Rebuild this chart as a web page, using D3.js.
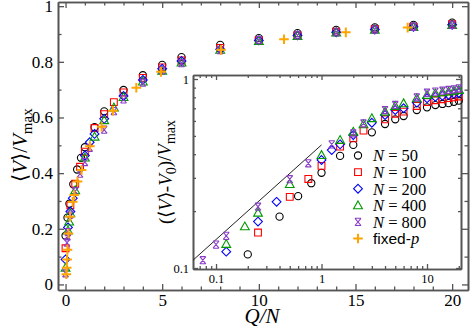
<!DOCTYPE html>
<meta charset="utf-8">
<style>
body { margin: 0; background: #fff; }
svg { display: block; }
.ax path { stroke: #555; stroke-width: 1.6; fill: none; }
.ax line { stroke: #555; stroke-width: 1.3; }
.ax text { font-family: "Liberation Serif", "Times New Roman", serif; fill: #000; }
</style>
<body>
<script src="https://d3js.org/d3.v7.min.js"></script>
<script>

// ---- main plot data: <V>/Vmax against Q/N
var n50X  = [0, 0.1, 0.2, 0.4, 0.6, 0.8, 1, 1.5, 2, 3, 4, 5, 6, 8, 10, 12, 14, 16, 18, 20];
var n50Y  = [0.175, 0.24, 0.29, 0.36, 0.413, 0.455, 0.493, 0.565, 0.622, 0.699, 0.752, 0.789, 0.817, 0.861, 0.885, 0.903, 0.915, 0.924, 0.933, 0.941];
var n100X = [0, 0.25, 0.5, 0.75, 1, 1.5, 2, 2.5, 3, 4, 5, 6, 8, 10, 12, 14, 16, 18, 20];
var n100Y = [0.13, 0.284, 0.362, 0.423, 0.477, 0.562, 0.612, 0.655, 0.69, 0.742, 0.78, 0.805, 0.85, 0.878, 0.895, 0.908, 0.918, 0.926, 0.935];
var n200X = [0, 0.125, 0.25, 0.375, 1, 1.25, 1.5, 2, 3, 4, 5, 6, 8, 10, 12, 14, 16, 18, 20];
var n200Y = [0.09, 0.205, 0.262, 0.31, 0.463, 0.511, 0.541, 0.595, 0.677, 0.735, 0.775, 0.803, 0.845, 0.877, 0.895, 0.906, 0.916, 0.926, 0.933];
var n400X = [0, 0.125, 0.1875, 0.25, 0.5, 1, 1.5, 2, 2.5, 3, 4, 5, 6, 8, 10, 12, 14, 16, 18, 20];
var n400Y = [0.06, 0.194, 0.226, 0.256, 0.338, 0.456, 0.531, 0.59, 0.636, 0.673, 0.729, 0.768, 0.797, 0.843, 0.875, 0.893, 0.905, 0.915, 0.925, 0.932];
var n800X = [0, 0.075, 0.1, 0.125, 0.25, 0.5, 0.75, 1, 1.25, 2, 2.5, 3, 4, 5, 6, 8, 10, 12, 14, 16, 18, 20];
var n800Y = [0.04, 0.15, 0.173, 0.188, 0.251, 0.335, 0.398, 0.44, 0.491, 0.556, 0.623, 0.665, 0.725, 0.769, 0.795, 0.842, 0.878, 0.895, 0.906, 0.916, 0.926, 0.933];
var fixX  = [0.04, 0.06, 0.08, 0.1, 0.15, 0.23, 0.37, 0.45, 0.62, 0.83, 1.26, 1.87, 2.45, 3.66, 4.94, 8.04, 11.3, 14.5, 17.7];
var fixY  = [0.037, 0.06, 0.09, 0.125, 0.183, 0.243, 0.297, 0.321, 0.37, 0.411, 0.497, 0.567, 0.624, 0.707, 0.764, 0.843, 0.881, 0.906, 0.923];

// ---- inset data: (<V>-V0)/Vmax against Q/N, log-log
var in50X  = [0.2, 0.4, 0.6, 0.8, 1, 1.5, 2, 3, 4, 5, 6, 8, 10, 12, 14, 16, 18, 20];
var in50Y  = [0.118, 0.187, 0.24, 0.281, 0.319, 0.392, 0.448, 0.522, 0.578, 0.612, 0.637, 0.685, 0.708, 0.728, 0.738, 0.745, 0.757, 0.768];
var in100X = [0.25, 0.5, 0.75, 1, 1.5, 2, 2.5, 4, 5, 6, 8, 10, 12, 14, 16, 18, 20];
var in100Y = [0.154, 0.238, 0.296, 0.347, 0.439, 0.485, 0.533, 0.612, 0.655, 0.672, 0.72, 0.755, 0.772, 0.782, 0.792, 0.8, 0.808];
var in200X = [0.125, 0.25, 0.375, 1, 1.25, 1.5, 2, 3, 4, 5, 6, 8, 10, 12, 14, 16, 18, 20];
var in200Y = [0.122, 0.176, 0.224, 0.373, 0.421, 0.451, 0.505, 0.587, 0.645, 0.685, 0.70, 0.75, 0.79, 0.805, 0.815, 0.825, 0.835, 0.843];
var in400X = [0.125, 0.1875, 0.25, 0.5, 1, 1.5, 2, 2.5, 3, 4, 5, 6, 8, 10, 12, 14, 16, 18, 20];
var in400Y = [0.134, 0.166, 0.196, 0.278, 0.396, 0.476, 0.526, 0.576, 0.62, 0.671, 0.72, 0.744, 0.79, 0.823, 0.84, 0.85, 0.857, 0.867, 0.875];
var in800X = [0.075, 0.1, 0.125, 0.25, 0.5, 0.75, 1.25, 2, 2.5, 4, 5, 8, 10, 12, 14, 16, 18, 20];
var in800Y = [0.11, 0.133, 0.148, 0.211, 0.295, 0.358, 0.451, 0.516, 0.583, 0.685, 0.729, 0.80, 0.846, 0.857, 0.867, 0.875, 0.882, 0.893];
var guideX = [0.0605, 1];
var guideY = [0.110, 0.448];

var xMajor = [0, 5, 10, 15, 20];
var yMajor = [0, 0.2, 0.4, 0.6, 0.8, 1];
var inXLabels = [0.1, 1, 10];
var inYLabels = [0.1, 1];
var legendLabels = ["50", "100", "200", "400", "800"];

var width = 471, height = 331;

var svg = d3.select("body").append("svg")
    .attr("width", width)
    .attr("height", height);

// symbols
var sym = {
  circle:  "M3.6,0A3.6,3.6 0 1,1 -3.6,0A3.6,3.6 0 1,1 3.6,0Z",
  square:  "M-3.4,-3.4H3.4V3.4H-3.4Z",
  diamond: "M0,-4.4L4.4,0L0,4.4L-4.4,0Z",
  tri:     "M0,-4.4L4.4,3.4H-4.4Z",
  hour:    "M-3,-3.6L3,3.6M3,-3.6L-3,3.6M-3,-3.6H3M-3,3.6H3",
  plus:    "M-4.8,0H4.8M0,-4.8V4.8"
};
var series = [
  {x: n50X,  y: n50Y,  ix: in50X,  iy: in50Y,  s: "circle",  c: "#000",    w: 1.1},
  {x: n100X, y: n100Y, ix: in100X, iy: in100Y, s: "square",  c: "#ff0000", w: 1.1},
  {x: n200X, y: n200Y, ix: in200X, iy: in200Y, s: "diamond", c: "#0000ff", w: 1.1},
  {x: n400X, y: n400Y, ix: in400X, iy: in400Y, s: "tri",     c: "#009900", w: 1.1},
  {x: n800X, y: n800Y, ix: in800X, iy: in800Y, s: "hour",    c: "#8a3cc8", w: 1.1},
  {x: fixX,  y: fixY,  ix: null,   iy: null,   s: "plus",    c: "#ffa500", w: 2}
];

// ---------- main plot
var x = d3.scaleLinear().domain([-0.39, 20.82]).range([58, 468]);
var y = d3.scaleLinear().domain([-0.02, 1.015]).range([290, 2]);

function side(axis, tf) { svg.append("g").attr("class", "ax").attr("transform", tf).call(axis); }

var fmtY = function(d) { return String(+d.toFixed(1)); };
side(d3.axisBottom(x).tickValues(xMajor).tickSize(-6).tickSizeOuter(0).tickPadding(4), "translate(0,290)");
side(d3.axisTop(x).tickValues(xMajor).tickSize(-6).tickSizeOuter(0).tickFormat(""), "translate(0,2)");
side(d3.axisLeft(y).tickValues(yMajor).tickSize(-6).tickSizeOuter(0).tickPadding(5).tickFormat(fmtY), "translate(58,0)");
side(d3.axisRight(y).tickValues(yMajor).tickSize(-6).tickSizeOuter(0).tickFormat(""), "translate(468,0)");
var xMinor = d3.range(0, 21, 1).filter(function(d) { return d % 5; });
var yMinor = [0.1, 0.3, 0.5, 0.7, 0.9];
side(d3.axisBottom(x).tickValues(xMinor).tickSize(-3.5).tickSizeOuter(0).tickFormat(""), "translate(0,290)");
side(d3.axisTop(x).tickValues(xMinor).tickSize(-3.5).tickSizeOuter(0).tickFormat(""), "translate(0,2)");
side(d3.axisLeft(y).tickValues(yMinor).tickSize(-3.5).tickSizeOuter(0).tickFormat(""), "translate(58,0)");
side(d3.axisRight(y).tickValues(yMinor).tickSize(-3.5).tickSizeOuter(0).tickFormat(""), "translate(468,0)");
svg.selectAll(".ax text").style("font-size", "17px");

series.forEach(function(s) {
  svg.append("g").selectAll("path")
    .data(d3.range(s.x.length))
    .enter().append("path")
      .attr("d", sym[s.s])
      .attr("transform", function(i) { return "translate(" + x(s.x[i]) + "," + y(s.y[i]) + ")"; })
      .attr("fill", "none")
      .attr("stroke", s.c)
      .attr("stroke-width", s.w);
});

// axis titles
var serif = '"Liberation Serif", "Times New Roman", serif';
var yl = svg.append("text")
    .attr("transform", "translate(27,145) rotate(-90)")
    .attr("text-anchor", "middle")
    .style("font-family", serif).style("font-size", "21px");
yl.append("tspan").text("\u27E8");
yl.append("tspan").style("font-style", "italic").text("V");
yl.append("tspan").text("\u27E9/");
yl.append("tspan").style("font-style", "italic").text("V");
yl.append("tspan").attr("dy", "0.3em").style("font-size", "15px").text("max");

svg.append("text")
    .attr("x", 262).attr("y", 323)
    .attr("text-anchor", "middle")
    .style("font-family", serif).style("font-size", "21px").style("font-style", "italic")
    .text("Q/N");

// ---------- inset
var ix = d3.scaleLog().domain([0.0605, 21]).range([193, 461]);
var iy = d3.scaleLog().domain([0.0988, 1.05]).range([269, 75]);

svg.append("rect").attr("x", 193).attr("y", 75).attr("width", 268).attr("height", 194)
    .attr("fill", "#fff");

var inXMinor = [0.07, 0.08, 0.09, 0.2, 0.3, 0.4, 0.5, 0.6, 0.7, 0.8, 0.9, 2, 3, 4, 5, 6, 7, 8, 9, 20];
var inYMinor = [0.2, 0.3, 0.4, 0.5, 0.6, 0.7, 0.8, 0.9];
var fmtL = function(d) { return String(d); };
side(d3.axisBottom(ix).tickValues(inXLabels).tickSize(-5).tickSizeOuter(0).tickPadding(5).tickFormat(fmtL), "translate(0,269)");
side(d3.axisTop(ix).tickValues(inXLabels).tickSize(-5).tickSizeOuter(0).tickFormat(""), "translate(0,75)");
side(d3.axisLeft(iy).tickValues(inYLabels).tickSize(-5).tickSizeOuter(0).tickPadding(4).tickFormat(fmtL), "translate(193,0)");
side(d3.axisRight(iy).tickValues(inYLabels).tickSize(-5).tickSizeOuter(0).tickFormat(""), "translate(461,0)");
side(d3.axisBottom(ix).tickValues(inXMinor).tickSize(-3).tickSizeOuter(0).tickFormat(""), "translate(0,269)");
side(d3.axisTop(ix).tickValues(inXMinor).tickSize(-3).tickSizeOuter(0).tickFormat(""), "translate(0,75)");
side(d3.axisLeft(iy).tickValues(inYMinor).tickSize(-3).tickSizeOuter(0).tickFormat(""), "translate(193,0)");
side(d3.axisRight(iy).tickValues(inYMinor).tickSize(-3).tickSizeOuter(0).tickFormat(""), "translate(461,0)");
svg.selectAll(".ax text").filter(function() { return !this.style.fontSize; }).style("font-size", "12.5px");

svg.append("path")
    .datum(d3.range(guideX.length))
    .attr("d", d3.line().x(function(i) { return ix(guideX[i]); }).y(function(i) { return iy(guideY[i]); }))
    .attr("stroke", "#222").attr("stroke-width", 1).attr("fill", "none");

series.forEach(function(s) {
  if (!s.ix) return;
  svg.append("g").selectAll("path")
    .data(d3.range(s.ix.length))
    .enter().append("path")
      .attr("d", sym[s.s])
      .attr("transform", function(i) { return "translate(" + ix(s.ix[i]) + "," + iy(s.iy[i]) + ")"; })
      .attr("fill", "none")
      .attr("stroke", s.c)
      .attr("stroke-width", s.w);
});

var il = svg.append("text")
    .attr("transform", "translate(172,172) rotate(-90)")
    .attr("text-anchor", "middle")
    .style("font-family", serif).style("font-size", "19px");
il.append("tspan").text("(\u27E8");
il.append("tspan").style("font-style", "italic").text("V");
il.append("tspan").text("\u27E9-");
il.append("tspan").style("font-style", "italic").text("V");
il.append("tspan").attr("dy", "0.3em").style("font-size", "14px").text("0");
il.append("tspan").attr("dy", "-0.3em").text(")/");
il.append("tspan").style("font-style", "italic").text("V");
il.append("tspan").attr("dy", "0.3em").style("font-size", "14px").text("max");

// legend
var leg = svg.append("g");
series.forEach(function(s, k) {
  var ry = 155.5 + k * 16.6;
  leg.append("path").attr("d", sym[s.s])
      .attr("transform", "translate(358," + ry + ")")
      .attr("fill", "none").attr("stroke", s.c).attr("stroke-width", s.w);
  var t = leg.append("text").attr("x", 373).attr("y", ry + 5.8);
  if (k < 5) {
    t.style("font-family", serif).style("font-size", "16.5px");
    t.append("tspan").style("font-style", "italic").text("N");
    t.append("tspan").text(" = " + legendLabels[k]);
  } else {
    t.style("font-family", '"Liberation Sans", Arial, sans-serif').style("font-size", "15.5px");
    t.append("tspan").text("fixed-");
    t.append("tspan").style("font-style", "italic").style("font-family", serif).style("font-size", "16.5px").text("p");
  }
});

</script>
